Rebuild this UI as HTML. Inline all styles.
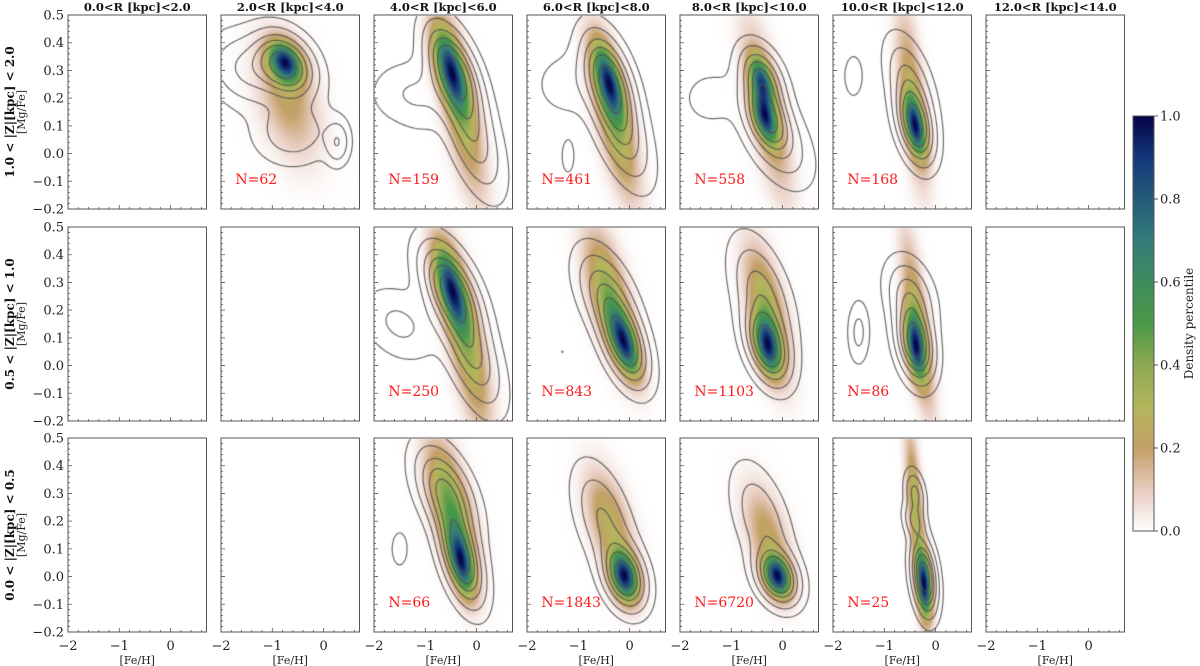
<!DOCTYPE html>
<html><head><meta charset="utf-8">
<style>
body{margin:0;background:#fff;width:1200px;height:666px;overflow:hidden;position:relative}
canvas,svg{position:absolute;left:0;top:0}
text{font-family:"DejaVu Serif","Liberation Serif",serif}
</style></head>
<body>
<canvas id="cv" width="1200" height="666"></canvas>
<svg id="sv" width="1200" height="666"></svg>
<script>
// ---- data ----
const rTitles = ["0.0<R [kpc]<2.0","2.0<R [kpc]<4.0","4.0<R [kpc]<6.0","6.0<R [kpc]<8.0","8.0<R [kpc]<10.0","10.0<R [kpc]<12.0","12.0<R [kpc]<14.0"];
const zTitles = ["1.0 < |Z|[kpc] < 2.0","0.5 < |Z|[kpc] < 1.0","0.0 < |Z|[kpc] < 0.5"];
const yTicks = [-0.2,-0.1,0.0,0.1,0.2,0.3,0.4,0.5];
const xTicks = [-2,-1,0];
const cbTicks = [0,0.2,0.4,0.6,0.8,1.0];
const panelRows = [0,0,0,0,0, 1,1,1,1, 2,2,2,2];
const panelCols = [1,2,3,4,5, 2,3,4,5, 2,3,4,5];
const panelN = [62,159,461,558,168, 250,843,1103,86, 66,1843,6720,25];
// gaussian components: [x, y, sx, sy, rho, weight]
const densComps = [
 [[-0.75,0.33,0.22,0.05,-0.3,1],[-0.7,0.2,0.4,0.14,-0.4,0.25]],
 [[-0.5,0.3,0.22,0.1,-0.6,1],[-0.3,0.15,0.3,0.2,-0.7,0.4]],
 [[-0.4,0.26,0.2,0.09,-0.6,1],[-0.3,0.12,0.3,0.18,-0.7,0.5]],
 [[-0.4,0.26,0.16,0.06,-0.5,0.9],[-0.35,0.13,0.16,0.06,-0.5,1],[-0.3,0.15,0.3,0.2,-0.7,0.35]],
 [[-0.4,0.1,0.14,0.07,-0.5,1],[-0.45,0.2,0.2,0.2,-0.6,0.35]],
 [[-0.5,0.28,0.22,0.1,-0.6,1],[-0.2,0.08,0.3,0.2,-0.7,0.45]],
 [[-0.1,0.08,0.2,0.08,-0.6,1],[-0.4,0.25,0.3,0.15,-0.6,0.5]],
 [[-0.3,0.07,0.17,0.07,-0.4,1],[-0.3,0.2,0.28,0.15,-0.6,0.45]],
 [[-0.4,0.07,0.13,0.08,-0.4,1],[-0.35,0.15,0.2,0.2,-0.7,0.4]],
 [[-0.3,0.05,0.17,0.08,-0.5,1],[-0.5,0.25,0.3,0.15,-0.6,0.6]],
 [[-0.1,0.0,0.18,0.06,-0.3,1],[-0.4,0.2,0.3,0.12,-0.5,0.3]],
 [[-0.1,0.0,0.17,0.05,-0.3,1],[-0.3,0.15,0.3,0.12,-0.5,0.25]],
 [[-0.22,-0.03,0.1,0.08,-0.3,1],[-0.4,0.25,0.12,0.18,-0.6,0.35]]
];
const contComps = [
 [[-0.75,0.32,0.35,0.07,-0.3,1],[-1.5,0.3,0.45,0.08,-0.2,0.35],[-0.6,0.08,0.45,0.07,0,0.28],[0.27,0.04,0.15,0.05,0,0.3]],
 [[-0.45,0.3,0.32,0.1,-0.55,1],[-0.1,0.08,0.35,0.13,-0.6,0.5],[-1.5,0.22,0.4,0.07,0,0.12],[-1.0,0.2,0.35,0.08,0,0.12]],
 [[-0.4,0.27,0.3,0.1,-0.5,1],[-0.2,0.1,0.35,0.12,-0.6,0.6],[-1.2,0.25,0.45,0.08,0,0.12],[-1.2,-0.01,0.1,0.05,0,0.12]],
 [[-0.4,0.27,0.26,0.07,-0.4,0.9],[-0.3,0.13,0.26,0.07,-0.4,1],[-0.1,0.05,0.4,0.1,-0.5,0.4],[-1.4,0.2,0.4,0.07,0,0.12]],
 [[-0.4,0.1,0.22,0.08,-0.4,1],[-0.5,0.25,0.28,0.1,-0.5,0.4],[-1.6,0.28,0.12,0.05,0,0.15]],
 [[-0.5,0.27,0.35,0.1,-0.55,1],[-0.1,0.05,0.35,0.12,-0.6,0.55],[-1.5,0.15,0.45,0.08,-0.3,0.2]],
 [[-0.1,0.08,0.28,0.09,-0.5,1],[-0.45,0.25,0.35,0.1,-0.5,0.5],[-1.3,0.05,0.06,0.03,0,0.06]],
 [[-0.3,0.07,0.26,0.08,-0.4,1],[-0.4,0.25,0.35,0.12,-0.5,0.45]],
 [[-0.4,0.08,0.22,0.08,-0.3,1],[-0.5,0.25,0.28,0.08,-0.3,0.4],[-1.5,0.12,0.13,0.07,0,0.2]],
 [[-0.3,0.07,0.26,0.1,-0.5,1],[-0.6,0.3,0.35,0.1,-0.5,0.7],[-1.5,0.1,0.1,0.04,0,0.15]],
 [[-0.1,0.0,0.25,0.07,-0.3,1],[-0.5,0.2,0.35,0.12,-0.5,0.35]],
 [[-0.1,0.0,0.25,0.06,-0.3,1],[-0.4,0.2,0.35,0.12,-0.5,0.3]],
 [[-0.22,0.0,0.15,0.08,-0.3,1],[-0.4,0.3,0.12,0.05,-0.3,0.35],[-0.42,0.2,0.13,0.04,-0.3,0.3]]
];
const contLevels = [0.05,0.15,0.3,0.45,0.6,0.8];
// ---- layout ----
const colX0=68, colPitch=153, PW=138.5, rowY0=[15,227,438], PH=194;
const XMIN=-2, XMAX=0.7, YMIN=-0.2, YMAX=0.5;
function sx(c,x){return colX0+c*colPitch+(x-XMIN)/(XMAX-XMIN)*PW;}
function sy(r,y){return rowY0[r]+(YMAX-y)/(YMAX-YMIN)*PH;}
const cmapStops=[[0,[255,255,255]],[0.1,[232,204,192]],[0.2,[195,160,102]],[0.3,[180,181,92]],[0.4,[141,170,82]],[0.5,[75,154,72]],[0.6,[64,140,92]],[0.7,[52,124,122]],[0.8,[36,92,120]],[0.9,[20,56,122]],[1.0,[5,5,72]]];
function cmap(t){t=Math.max(0,Math.min(1,t));for(let i=1;i<cmapStops.length;i++){if(t<=cmapStops[i][0]){const a=cmapStops[i-1],b=cmapStops[i],f=(t-a[0])/(b[0]-a[0]);return a[1].map((v,k)=>Math.round(v+(b[1][k]-v)*f));}}return cmapStops[cmapStops.length-1][1];}
function dens(comps,x,y){let s=0;for(const g of comps){const dx=(x-g[0])/g[2],dy=(y-g[1])/g[3],r=g[4];s+=g[5]*Math.exp(-0.5/(1-r*r)*(dx*dx-2*r*dx*dy+dy*dy));}return s;}
const cv=document.getElementById('cv'),ctx=cv.getContext('2d');
function px2x(c,p){return XMIN+(p-(colX0+c*colPitch))/PW*(XMAX-XMIN);}
function py2y(r,p){return YMAX-(p-rowY0[r])/PH*(YMAX-YMIN);}
const segT={1:[[3,2]],2:[[2,1]],3:[[3,1]],4:[[0,1]],5:[[3,0],[2,1]],6:[[0,2]],7:[[3,0]],8:[[3,0]],9:[[0,2]],10:[[0,1],[3,2]],11:[[0,1]],12:[[3,1]],13:[[2,1]],14:[[3,2]]};
for(let p=0;p<panelN.length;p++){
  const r=panelRows[p],c=panelCols[p];
  const x0=Math.round(sx(c,XMIN))+1,x1=Math.round(sx(c,XMAX)),y0=Math.round(sy(r,YMAX))+1,y1=Math.round(sy(r,YMIN));
  const w=x1-x0,h=y1-y0;const img=ctx.createImageData(w,h);
  const vals=[];let mx=0;
  for(let j=0;j<h;j++)for(let i=0;i<w;i++){const v=dens(densComps[p],px2x(c,x0+i+0.5),py2y(r,y0+j+0.5));vals.push(v);if(v>mx)mx=v;}
  for(let k=0;k<vals.length;k++){const col=cmap(vals[k]/mx);img.data[k*4]=col[0];img.data[k*4+1]=col[1];img.data[k*4+2]=col[2];img.data[k*4+3]=255;}
  ctx.putImageData(img,x0,y0);
  const st=2,gw=Math.ceil(w/st)+1,gh=Math.ceil(h/st)+1;const G=[];let cm=0;
  for(let j=0;j<gh;j++){G.push([]);for(let i=0;i<gw;i++){const v=dens(contComps[p],px2x(c,x0+i*st),py2y(r,y0+j*st));G[j].push(v);if(v>cm)cm=v;}}
  ctx.save();ctx.beginPath();ctx.rect(x0,y0,w,h);ctx.clip();
  ctx.strokeStyle='rgba(80,80,80,0.85)';ctx.lineWidth=1.2;ctx.beginPath();
  for(const lf of contLevels){const L=lf*cm;
    for(let j=0;j<gh-1;j++)for(let i=0;i<gw-1;i++){
      const a=G[j][i],b=G[j][i+1],cc=G[j+1][i+1],d=G[j+1][i];
      const idx=(a>L?8:0)+(b>L?4:0)+(cc>L?2:0)+(d>L?1:0);const s=segT[idx];if(!s)continue;
      const ept=e=>{let t;if(e===0){t=(L-a)/(b-a);return[i+t,j];}if(e===1){t=(L-b)/(cc-b);return[i+1,j+t];}if(e===2){t=(L-d)/(cc-d);return[i+t,j+1];}t=(L-a)/(d-a);return[i,j+t];};
      for(const sg of s){const P=ept(sg[0]),Q=ept(sg[1]);ctx.moveTo(x0+P[0]*st,y0+P[1]*st);ctx.lineTo(x0+Q[0]*st,y0+Q[1]*st);}
    }}
  ctx.stroke();ctx.restore();
}
const cbx=1133,cbw=21,cby0=116,cby1=531;
for(let y=cby0;y<cby1;y++){const col=cmap((cby1-y)/(cby1-cby0));ctx.fillStyle=`rgb(${col})`;ctx.fillRect(cbx,y,cbw,1);}
// ---- SVG ----
const sv=document.getElementById('sv'),NS='http://www.w3.org/2000/svg';
function el(tag,at,parent){const e=document.createElementNS(NS,tag);for(const k in at)e.setAttribute(k,at[k]);(parent||sv).appendChild(e);return e;}
function txt(s,at,parent){const e=el('text',at,parent);e.textContent=s;return e;}
for(let r=0;r<3;r++)for(let c=0;c<7;c++){
  const g=el('g',{});
  
  
  const L=sx(c,XMIN),R=sx(c,XMAX),T=sy(r,YMAX),B=sy(r,YMIN);
  const fr=el('rect',{x:L,y:T,width:R-L,height:B-T,fill:'none',stroke:'#555','stroke-width':1},g);
  
  
  let d='';
  for(let k=0;k<=35;k++){const y=YMIN+k*0.02;const yy=sy(r,y);const maj=(k%5===0);d+=`M${L},${yy}h${maj?4:2}`;}
  for(let k=0;k<=13;k++){const x=XMIN+k*0.2;const xx=sx(c,x);const maj=(k%5===0);d+=`M${xx},${B}v${maj?-4:-2}`;}
  el('path',{d:d,stroke:'#555','stroke-width':0.8,fill:'none'},g);
  if(c===0){for(const t of yTicks){const lb=txt((t<0?'\u2212':'')+Math.abs(t).toFixed(1),{x:L-4,y:sy(r,t)+4.5,'font-size':13,'text-anchor':'end',fill:'#222'},g);
    
    }}
  if(r===2){for(const t of xTicks){const lb=txt((t<0?'\u2212':'')+Math.abs(t),{x:sx(c,t),y:B+18,'font-size':13,'text-anchor':'middle',fill:'#222'},g);
    
    }
    const xl=txt('[Fe/H]',{x:(L+R)/2,y:B+32,'font-size':11,'text-anchor':'middle',fill:'#222'},g);
    
    }
  if(r===0){const tt=txt(rTitles[c],{x:(L+R)/2,y:11,'font-size':11.5,'font-weight':'bold','text-anchor':'middle',fill:'#111'},g);
    
    }
}
for(let r=0;r<3;r++){const cy=(sy(r,YMAX)+sy(r,YMIN))/2;
  const a=txt(zTitles[r],{x:0,y:0,'font-size':12,'font-weight':'bold','text-anchor':'middle',fill:'#111',transform:`translate(14,${cy}) rotate(-90)`});
  
  
  const b=txt('[Mg/Fe]',{x:0,y:0,'font-size':11,'text-anchor':'middle',fill:'#222',transform:`translate(25,${cy}) rotate(-90)`});
  
  }
for(let p=0;p<panelN.length;p++){const r=panelRows[p],c=panelCols[p];
  const n=txt('N='+panelN[p],{x:sx(c,-1.72),y:sy(r,-0.11),'font-size':14,fill:'#ff1a1a'});
  
  }
const cbf=el('rect',{x:cbx,y:cby0,width:cbw,height:cby1-cby0,fill:'none',stroke:'#555','stroke-width':1});


for(const t of cbTicks){const yy=cby1-t*(cby1-cby0);el('path',{d:`M${cbx+cbw},${yy}h4`,stroke:'#555'});
  const lb=txt(t.toFixed(1),{x:cbx+cbw+6,y:yy+4.5,'font-size':13,fill:'#222'});
  
  }
const cbt=txt('Density percentile',{x:0,y:0,'font-size':12,'text-anchor':'middle',fill:'#222',transform:`translate(1193,${(cby0+cby1)/2}) rotate(-90)`});


</script>
</body></html>
